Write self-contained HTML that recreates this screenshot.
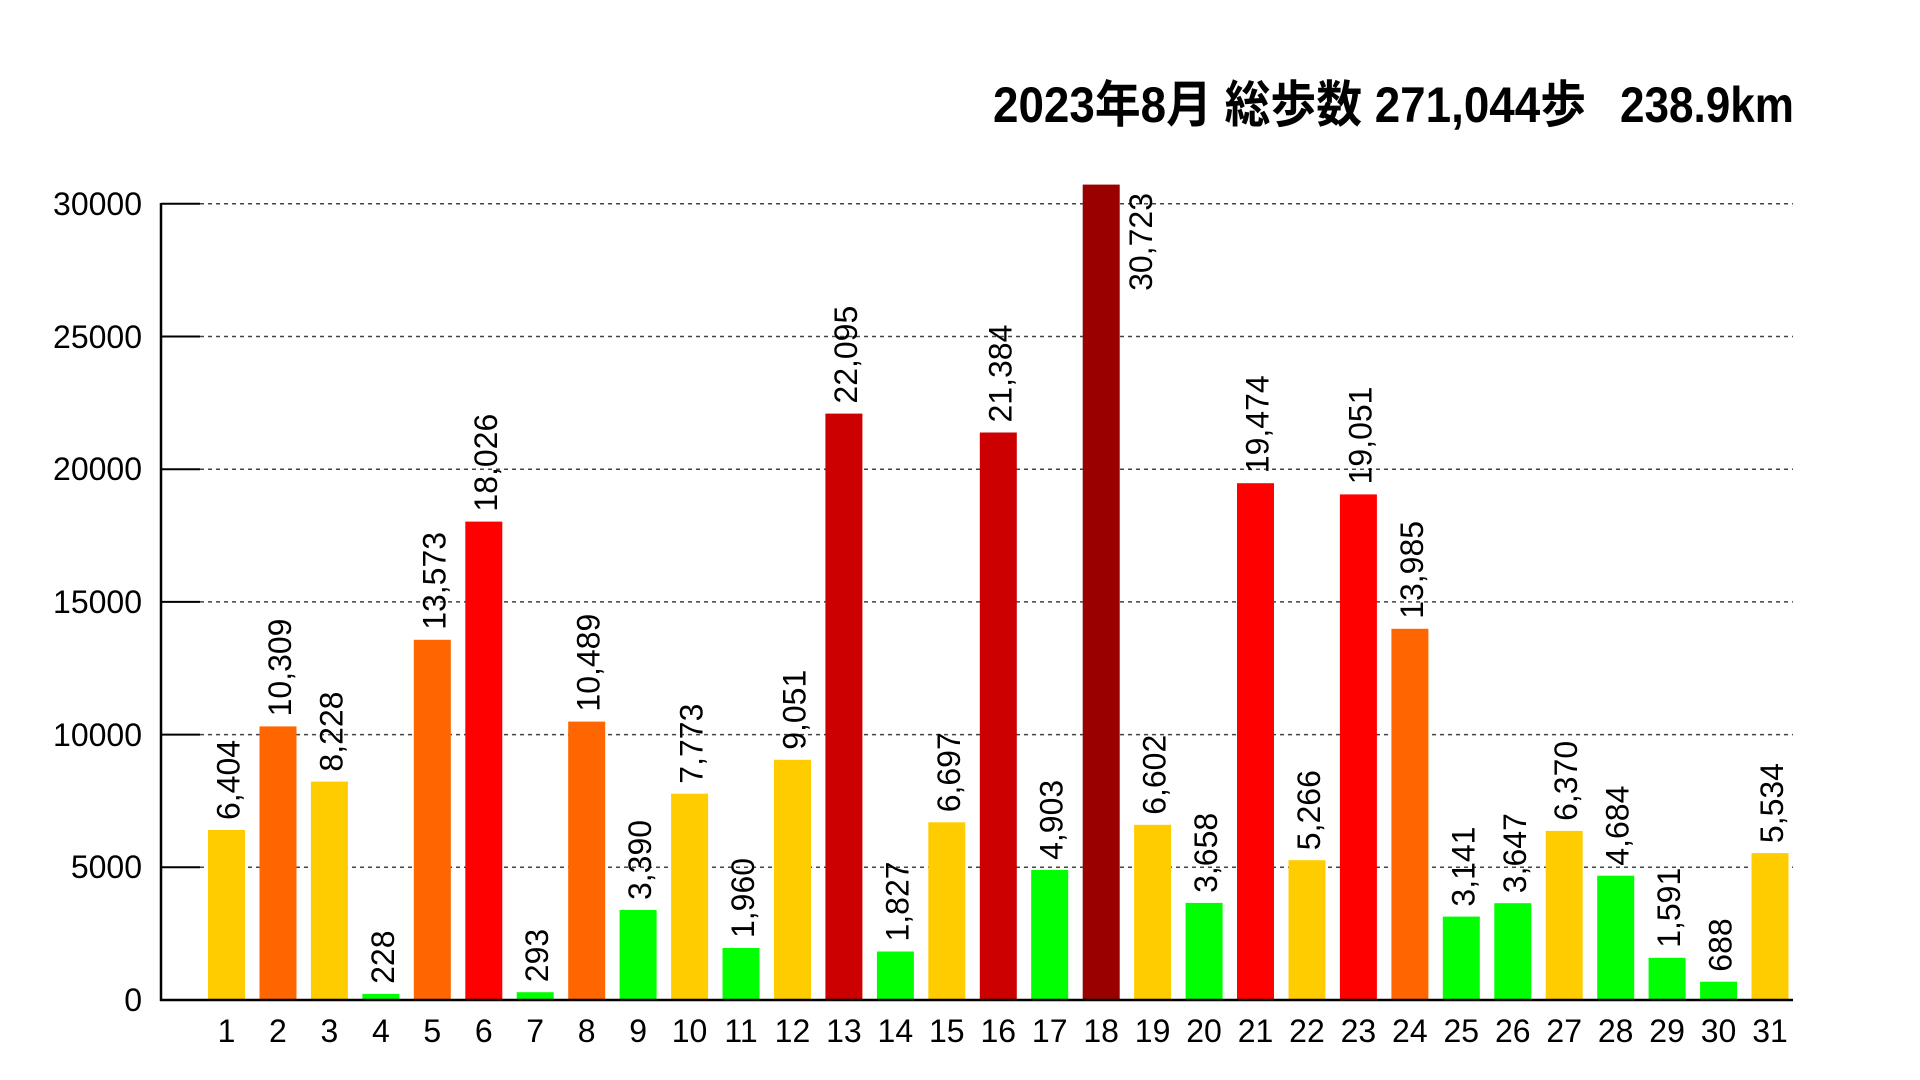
<!DOCTYPE html>
<html><head><meta charset="utf-8"><style>html,body{margin:0;padding:0;background:#fff}svg{display:block}</style></head>
<body>
<svg width="1920" height="1080" viewBox="0 0 1920 1080" xmlns="http://www.w3.org/2000/svg" font-family="'Liberation Sans','Noto Sans CJK JP',sans-serif">
<rect width="1920" height="1080" fill="#fff"/>
<text x="993" y="122" font-size="50" font-weight="bold" textLength="593" lengthAdjust="spacingAndGlyphs">2023年8月 総歩数 271,044歩</text>
<text x="1620" y="122" font-size="50" font-weight="bold" textLength="174" lengthAdjust="spacingAndGlyphs">238.9km</text>
<g stroke="#444" stroke-width="1.5" stroke-dasharray="4 4">
<line x1="200" y1="867.3" x2="1793" y2="867.3"/>
<line x1="200" y1="734.6" x2="1793" y2="734.6"/>
<line x1="200" y1="601.9" x2="1793" y2="601.9"/>
<line x1="200" y1="469.2" x2="1793" y2="469.2"/>
<line x1="200" y1="336.5" x2="1793" y2="336.5"/>
<line x1="200" y1="203.8" x2="1793" y2="203.8"/>
</g>
<g stroke="#000" stroke-width="2">
<line x1="161" y1="867.3" x2="200" y2="867.3"/>
<line x1="161" y1="734.6" x2="200" y2="734.6"/>
<line x1="161" y1="601.9" x2="200" y2="601.9"/>
<line x1="161" y1="469.2" x2="200" y2="469.2"/>
<line x1="161" y1="336.5" x2="200" y2="336.5"/>
<line x1="161" y1="203.8" x2="200" y2="203.8"/>
</g>
<g font-size="32" text-anchor="end">
<text x="142" y="1011">0</text>
<text x="142" y="878">5000</text>
<text x="142" y="746">10000</text>
<text x="142" y="613">15000</text>
<text x="142" y="480">20000</text>
<text x="142" y="348">25000</text>
<text x="142" y="215">30000</text>
</g>
<g>
<rect x="208" y="830.0" width="37" height="170.0" fill="#ffcc00"/>
<rect x="259.5" y="726.4" width="37" height="273.6" fill="#ff6600"/>
<rect x="310.9" y="781.6" width="37" height="218.4" fill="#ffcc00"/>
<rect x="362.4" y="993.9" width="37" height="6.1" fill="#00ff00"/>
<rect x="413.8" y="639.8" width="37" height="360.2" fill="#ff6600"/>
<rect x="465.3" y="521.6" width="37" height="478.4" fill="#ff0000"/>
<rect x="516.7" y="992.2" width="37" height="7.8" fill="#00ff00"/>
<rect x="568.2" y="721.6" width="37" height="278.4" fill="#ff6600"/>
<rect x="619.6" y="910.0" width="37" height="90.0" fill="#00ff00"/>
<rect x="671.1" y="793.7" width="37" height="206.3" fill="#ffcc00"/>
<rect x="722.5" y="948.0" width="37" height="52.0" fill="#00ff00"/>
<rect x="774" y="759.8" width="37" height="240.2" fill="#ffcc00"/>
<rect x="825.4" y="413.6" width="37" height="586.4" fill="#cc0000"/>
<rect x="876.9" y="951.5" width="37" height="48.5" fill="#00ff00"/>
<rect x="928.3" y="822.3" width="37" height="177.7" fill="#ffcc00"/>
<rect x="979.8" y="432.5" width="37" height="567.5" fill="#cc0000"/>
<rect x="1031.2" y="869.9" width="37" height="130.1" fill="#00ff00"/>
<rect x="1082.7" y="184.6" width="37" height="815.4" fill="#990000"/>
<rect x="1134.1" y="824.8" width="37" height="175.2" fill="#ffcc00"/>
<rect x="1185.6" y="902.9" width="37" height="97.1" fill="#00ff00"/>
<rect x="1237" y="483.2" width="37" height="516.8" fill="#ff0000"/>
<rect x="1288.5" y="860.2" width="37" height="139.8" fill="#ffcc00"/>
<rect x="1339.9" y="494.4" width="37" height="505.6" fill="#ff0000"/>
<rect x="1391.4" y="628.8" width="37" height="371.2" fill="#ff6600"/>
<rect x="1442.8" y="916.6" width="37" height="83.4" fill="#00ff00"/>
<rect x="1494.3" y="903.2" width="37" height="96.8" fill="#00ff00"/>
<rect x="1545.7" y="830.9" width="37" height="169.1" fill="#ffcc00"/>
<rect x="1597.2" y="875.7" width="37" height="124.3" fill="#00ff00"/>
<rect x="1648.6" y="957.8" width="37" height="42.2" fill="#00ff00"/>
<rect x="1700.1" y="981.7" width="37" height="18.3" fill="#00ff00"/>
<rect x="1751.5" y="853.1" width="37" height="146.9" fill="#ffcc00"/>
</g>
<g stroke="#000" stroke-width="2.5">
<line x1="161" y1="203" x2="161" y2="1001"/>
<line x1="160" y1="1000" x2="1793" y2="1000"/>
</g>
<g font-size="32">
<text transform="translate(239.5,820) rotate(-90)">6,404</text>
<text transform="translate(291,716.4) rotate(-90)">10,309</text>
<text transform="translate(342.4,771.6) rotate(-90)">8,228</text>
<text transform="translate(393.9,983.9) rotate(-90)">228</text>
<text transform="translate(445.3,629.8) rotate(-90)">13,573</text>
<text transform="translate(496.8,511.6) rotate(-90)">18,026</text>
<text transform="translate(548.2,982.2) rotate(-90)">293</text>
<text transform="translate(599.7,711.6) rotate(-90)">10,489</text>
<text transform="translate(651.1,900) rotate(-90)">3,390</text>
<text transform="translate(702.6,783.7) rotate(-90)">7,773</text>
<text transform="translate(754,938) rotate(-90)">1,960</text>
<text transform="translate(805.5,749.8) rotate(-90)">9,051</text>
<text transform="translate(856.9,403.6) rotate(-90)">22,095</text>
<text transform="translate(908.4,941.5) rotate(-90)">1,827</text>
<text transform="translate(959.8,812.3) rotate(-90)">6,697</text>
<text transform="translate(1011.3,422.5) rotate(-90)">21,384</text>
<text transform="translate(1062.7,859.9) rotate(-90)">4,903</text>
<text transform="translate(1152,193) rotate(-90)" text-anchor="end">30,723</text>
<text transform="translate(1165.6,814.8) rotate(-90)">6,602</text>
<text transform="translate(1217.1,892.9) rotate(-90)">3,658</text>
<text transform="translate(1268.5,473.2) rotate(-90)">19,474</text>
<text transform="translate(1320,850.2) rotate(-90)">5,266</text>
<text transform="translate(1371.4,484.4) rotate(-90)">19,051</text>
<text transform="translate(1422.9,618.8) rotate(-90)">13,985</text>
<text transform="translate(1474.3,906.6) rotate(-90)">3,141</text>
<text transform="translate(1525.8,893.2) rotate(-90)">3,647</text>
<text transform="translate(1577.2,820.9) rotate(-90)">6,370</text>
<text transform="translate(1628.7,865.7) rotate(-90)">4,684</text>
<text transform="translate(1680.1,947.8) rotate(-90)">1,591</text>
<text transform="translate(1731.6,971.7) rotate(-90)">688</text>
<text transform="translate(1783,843.1) rotate(-90)">5,534</text>
</g>
<g font-size="32" text-anchor="middle">
<text x="226.5" y="1042">1</text>
<text x="277.95" y="1042">2</text>
<text x="329.4" y="1042">3</text>
<text x="380.85" y="1042">4</text>
<text x="432.3" y="1042">5</text>
<text x="483.75" y="1042">6</text>
<text x="535.2" y="1042">7</text>
<text x="586.65" y="1042">8</text>
<text x="638.1" y="1042">9</text>
<text x="689.55" y="1042">10</text>
<text x="741" y="1042">11</text>
<text x="792.45" y="1042">12</text>
<text x="843.9" y="1042">13</text>
<text x="895.35" y="1042">14</text>
<text x="946.8" y="1042">15</text>
<text x="998.25" y="1042">16</text>
<text x="1049.7" y="1042">17</text>
<text x="1101.15" y="1042">18</text>
<text x="1152.6" y="1042">19</text>
<text x="1204.05" y="1042">20</text>
<text x="1255.5" y="1042">21</text>
<text x="1306.95" y="1042">22</text>
<text x="1358.4" y="1042">23</text>
<text x="1409.85" y="1042">24</text>
<text x="1461.3" y="1042">25</text>
<text x="1512.75" y="1042">26</text>
<text x="1564.2" y="1042">27</text>
<text x="1615.65" y="1042">28</text>
<text x="1667.1" y="1042">29</text>
<text x="1718.55" y="1042">30</text>
<text x="1770" y="1042">31</text>
</g>
</svg>
</body></html>
